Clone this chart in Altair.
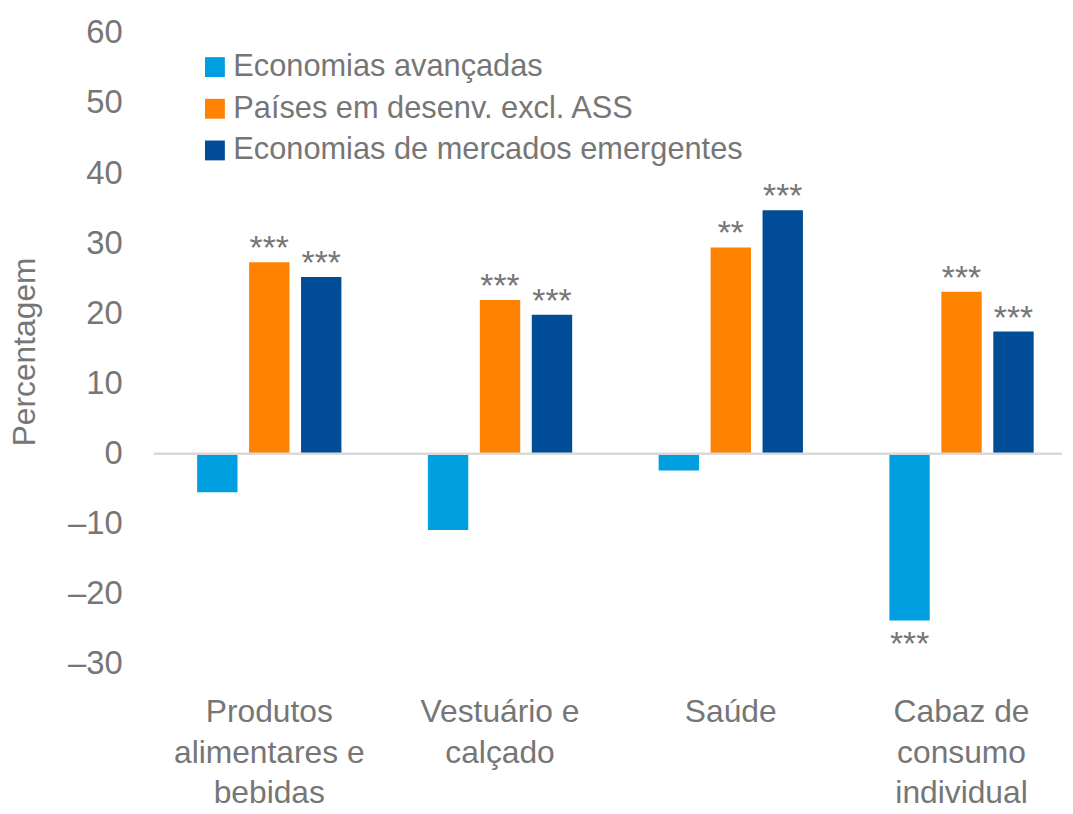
import altair as alt
import pandas as pd

categories = ["Produtos\nalimentares e\nbebidas", "Vestuário e\ncalçado", "Saúde", "Cabaz de\nconsumo\nindividual"]
series = ["Economias avançadas", "Países em desenv. excl. ASS", "Economias de mercados emergentes"]
colors = ["#009FDF", "#FF8200", "#004C97"]

adv = [-5.5, -10.9, -2.4, -23.8]
dev = [27.3, 21.9, 29.4, 23.1]
emk = [25.2, 19.8, 34.7, 17.4]

sig_adv = ["", "", "", "***"]
sig_dev = ["***", "***", "**", "***"]
sig_emk = ["***", "***", "***", "***"]

rows = []
for s, vals, sigs in zip(series, [adv, dev, emk], [sig_adv, sig_dev, sig_emk]):
    for c, v, g in zip(categories, vals, sigs):
        rows.append({"cat": c, "serie": s, "value": v, "sig": g})
df = pd.DataFrame(rows)

FONT = "Liberation Sans, Arial"
GREY = "#767676"
FS = 32

x_scale = alt.Scale(paddingInner=0, paddingOuter=0, range=[0, 930])
xo_scale = alt.Scale(paddingInner=0.223, paddingOuter=0.832)

x_enc = alt.X("cat:N", sort=categories, scale=x_scale,
              axis=alt.Axis(title=None, labelAngle=0, domain=False, ticks=False, tickSize=0,
                            labelFontSize=FS, labelColor=GREY, labelFont=FONT,
                            labelLineHeight=41, labelPadding=33, labelBaseline="top",
                            labelLimit=400,
                            labelExpr="split(datum.label, '\\n')"))
xo_enc = alt.XOffset("serie:N", sort=series, scale=xo_scale)
y_scale = alt.Scale(domain=[-30, 60], nice=False, zero=False)

bars = alt.Chart(df).mark_bar().encode(
    x=x_enc,
    xOffset=xo_enc,
    y=alt.Y("value:Q", scale=y_scale,
            axis=alt.Axis(title="Percentagem", values=list(range(-30, 61, 10)),
                          grid=False, domain=False, ticks=False, tickSize=0,
                          labelFontSize=FS + 1, labelColor=GREY, labelFont=FONT, labelPadding=32,
                          labelExpr="datum.value < 0 ? '–' + abs(datum.value) : '' + datum.value",
                          titleFontSize=FS, titleColor=GREY, titleFont=FONT, titleFontWeight="normal",
                          titleX=-120, titleY=321, titleAngle=-90, titleBaseline="alphabetic",
                          titleAlign="center")),
    color=alt.Color("serie:N", sort=series,
                    scale=alt.Scale(domain=series, range=colors),
                    legend=alt.Legend(title=None, orient="none", legendX=46, legendY=19,
                                      symbolType="square", symbolSize=400, symbolStrokeWidth=0,
                                      labelFontSize=31, labelColor=GREY, labelFont=FONT,
                                      rowPadding=10, labelOffset=3, padding=0,
                                      labelLimit=800)),
)

zero = alt.Chart(pd.DataFrame({"z": [0]})).mark_rule(color="#d9d9d9", strokeWidth=2.5).encode(
    y=alt.Y("z:Q", scale=y_scale)
)

pos_txt = alt.Chart(df).transform_filter("datum.value >= 0").mark_text(
    baseline="alphabetic", dy=-3, fontSize=34, font=FONT, color=GREY
).encode(x=alt.X("cat:N", sort=categories, scale=x_scale), xOffset=alt.XOffset("serie:N", sort=series, scale=xo_scale),
         y=alt.Y("value:Q", scale=y_scale), text="sig:N")

neg_txt = alt.Chart(df).transform_filter("datum.value < 0").mark_text(
    baseline="alphabetic", dy=35, fontSize=34, font=FONT, color=GREY
).encode(x=alt.X("cat:N", sort=categories, scale=x_scale), xOffset=alt.XOffset("serie:N", sort=series, scale=xo_scale),
         y=alt.Y("value:Q", scale=y_scale), text="sig:N")

chart = alt.layer(bars, zero, pos_txt, neg_txt).properties(
    width=915, height=636,
    autosize=alt.AutoSizeParams(type="none"),
    padding={"left": 147, "top": 22, "right": 3, "bottom": 140},
).configure(font=FONT).configure_view(stroke=None, strokeWidth=0)

chart.save("out.html", embed_options={"renderer": "svg", "actions": False})
